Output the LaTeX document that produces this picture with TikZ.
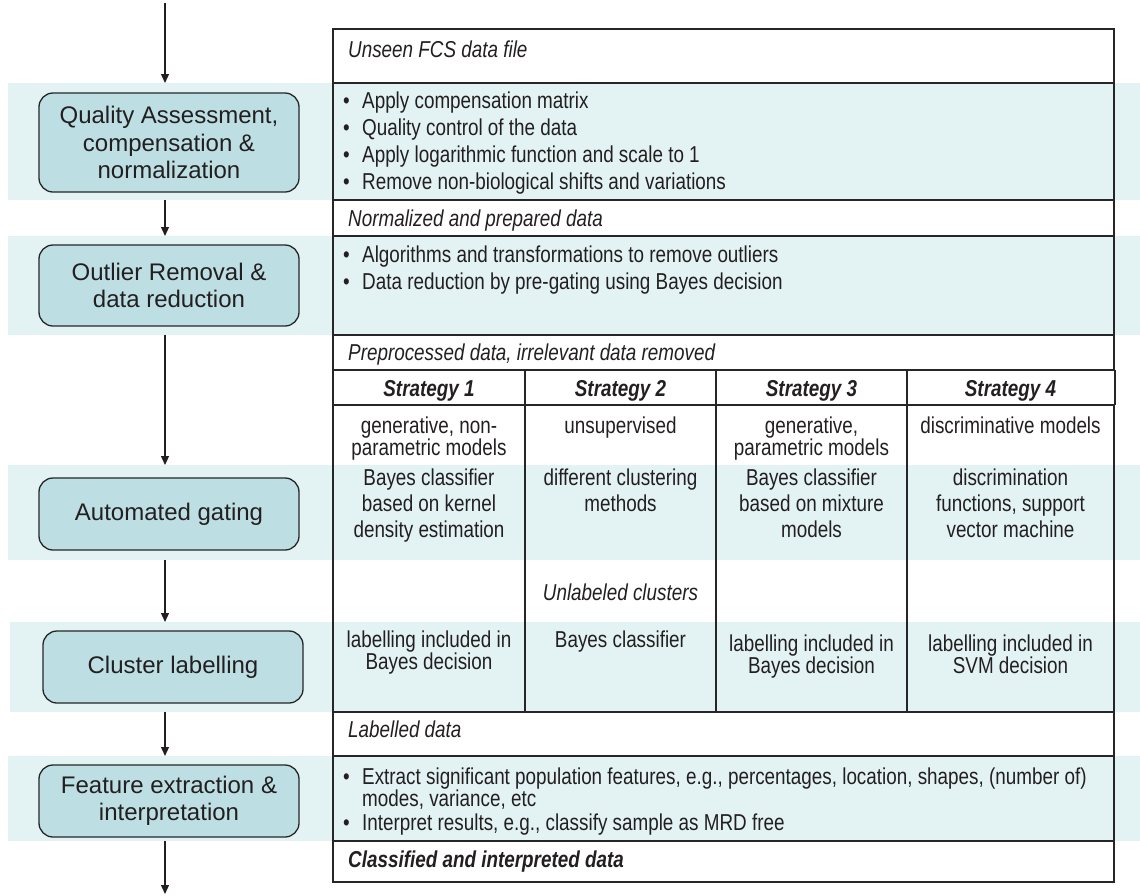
\documentclass[tikz,border=0pt]{standalone}
\usepackage{fontspec}
\setmainfont{Liberation Sans}
\newfontfamily\narrowfont[FakeStretch=0.82]{Liberation Sans}
\usetikzlibrary{arrows.meta}
\definecolor{band}{HTML}{E3F3F4}
\definecolor{boxfill}{HTML}{BDDFE3}
\definecolor{ink}{HTML}{231F20}
\definecolor{rulec}{HTML}{262626}
\newcommand\sx{\rule{0pt}{18pt}}
\newcommand\tabfont{\narrowfont\fontsize{23}{22}\selectfont}
\begin{document}
\begin{tikzpicture}[x=1pt,y=-1pt,
  stage/.style={draw=rulec, line width=1.3pt, fill=boxfill, rounded corners=14pt, align=center,
    font=\fontsize{24}{27.5}\selectfont, text=ink, inner sep=0pt, minimum width=260pt},
  bandbox/.style={fill=band, draw=none, anchor=north west, inner sep=0pt, outer sep=0pt, minimum width=1132pt},
  flow/.style={draw=ink, line width=1.2pt, -{Triangle[length=9pt,width=8pt]}},
  cell/.style={font=\tabfont, text=ink, inner sep=0pt, align=center, anchor=north},
  lbl/.style={font=\tabfont\itshape, text=ink, inner sep=0pt, anchor=north west},
  bul/.style={font=\tabfont, text=ink, inner sep=0pt, anchor=north west, align=left},
  hdr/.style={font=\tabfont\bfseries\itshape, text=ink, inner sep=0pt, anchor=north},
  outer/.style={draw=rulec, line width=2.6pt},
  hline/.style={draw=rulec, line width=1.8pt},
  vline/.style={draw=rulec, line width=1.1pt}
]
\useasboundingbox (0,0) rectangle (1140,895);
% background bands
\node[bandbox, minimum height=117pt] (bQ) at (8,83) {};
\node[bandbox, minimum height=99pt] (bO) at (8,236) {};
\node[bandbox, minimum height=95pt] (bA) at (8,465) {};
\node[bandbox, minimum height=90pt, minimum width=1130pt] (bC) at (10,622) {};
\node[bandbox, minimum height=85pt] (bF) at (8,756) {};
% stage boxes
\node[stage, minimum height=99pt] (sQ) at (169,142.5) {Quality Assessment,\\compensation \&\\normalization};
\node[stage, minimum height=81pt] (sO) at (169,285.5) {Outlier Removal \&\\data reduction};
\node[stage, minimum height=72pt] (sA) at (169,514) {Automated gating};
\node[stage, minimum height=72pt] (sC) at (173,667) {Cluster labelling};
\node[stage, minimum height=72pt] (sF) at (169,801) {Feature extraction \&\\interpretation};
% flow arrows
\coordinate (ax) at (165,0);
\coordinate (start) at (165,3);
\coordinate (finish) at (165,894);
\draw[flow] (start) -- (ax |- bQ.north);
\draw[flow] (ax |- bQ.south) -- (ax |- bO.north);
\draw[flow] (ax |- bO.south) -- (ax |- bA.north);
\draw[flow] (ax |- bA.south) -- (ax |- bC.north);
\draw[flow] (ax |- bC.south) -- (ax |- bF.north);
\draw[flow] (ax |- bF.south) -- (finish);
% table lines
\foreach \yy in {83,200,236,335,370,405,712,756,841}
  \draw[hline] (333,\yy) -- (1114,\yy);
\foreach \xx in {525,716,907}
  \draw[vline] (\xx,370) -- (\xx,712);
\draw[outer] (1114,370) -- (1114,29) -- (333,29) -- (333,882) -- (1114,882) -- (1114,405);
\draw[vline] (1115,370) -- (1115,405);
% table texts
\node[lbl] (t0) at (348,39) {\sx Unseen FCS data file};
\node[bul] (q1) at (343,90) {\sx\makebox[19pt][l]{\textbullet}Apply compensation matrix};
\node[bul] (q2) at (343,117) {\sx\makebox[19pt][l]{\textbullet}Quality control of the data};
\node[bul] (q3) at (343,144) {\sx\makebox[19pt][l]{\textbullet}Apply logarithmic function and scale to 1};
\node[bul] (q4) at (343,171) {\sx\makebox[19pt][l]{\textbullet}Remove non-biological shifts and variations};
\node[lbl] (t1) at (348,208) {\sx Normalized and prepared data};
\node[bul] (o1) at (343,244) {\sx\makebox[19pt][l]{\textbullet}Algorithms and transformations to remove outliers};
\node[bul] (o2) at (343,271) {\sx\makebox[19pt][l]{\textbullet}Data reduction by pre-gating using Bayes decision};
\node[lbl] (t2) at (348,342) {\sx Preprocessed data, irrelevant data removed};
\node[hdr] (h1) at (429,378) {\sx Strategy 1};
\node[hdr] (h2) at (620.5,378) {\sx Strategy 2};
\node[hdr] (h3) at (811.5,378) {\sx Strategy 3};
\node[hdr] (h4) at (1010.5,378) {\sx Strategy 4};
\node[cell] (m1) at (429,415) {\sx generative, non-\\parametric models};
\node[cell] (m2) at (620.5,415) {\sx unsupervised};
\node[cell] (m3) at (811.5,415) {\sx generative,\\parametric models};
\node[cell] (m4) at (1010.5,415) {\sx discriminative models};
\node[cell] (g1) at (429,467) {\sx Bayes classifier\\[4pt]based on kernel\\[4pt]density estimation};
\node[cell] (g2) at (620.5,467) {\sx different clustering\\[4pt]methods};
\node[cell] (g3) at (811.5,467) {\sx Bayes classifier\\[4pt]based on mixture\\[4pt]models};
\node[cell] (g4) at (1010.5,467) {\sx discrimination\\[4pt]functions, support\\[4pt]vector machine};
\node[cell, font=\tabfont\itshape] (u2) at (620.5,582) {\sx Unlabeled clusters};
\node[cell] (c1) at (429,629) {\sx labelling included in\\Bayes decision};
\node[cell] (c2) at (620.5,629) {\sx Bayes classifier};
\node[cell] (c3) at (811.5,633) {\sx labelling included in\\Bayes decision};
\node[cell] (c4) at (1010.5,633) {\sx labelling included in\\SVM decision};
\node[lbl] (t3) at (348,719) {\sx Labelled data};
\node[bul] (f1) at (343,766) {\sx\makebox[19pt][l]{\textbullet}Extract significant population features, e.g., percentages, location, shapes, (number of)\\\hspace*{19pt}modes, variance, etc};
\node[bul] (f2) at (343,812) {\sx\makebox[19pt][l]{\textbullet}Interpret results, e.g., classify sample as MRD free};
\node[lbl, font=\tabfont\bfseries\itshape] (t4) at (348,849) {\sx Classified and interpreted data};
\end{tikzpicture}
\end{document}
